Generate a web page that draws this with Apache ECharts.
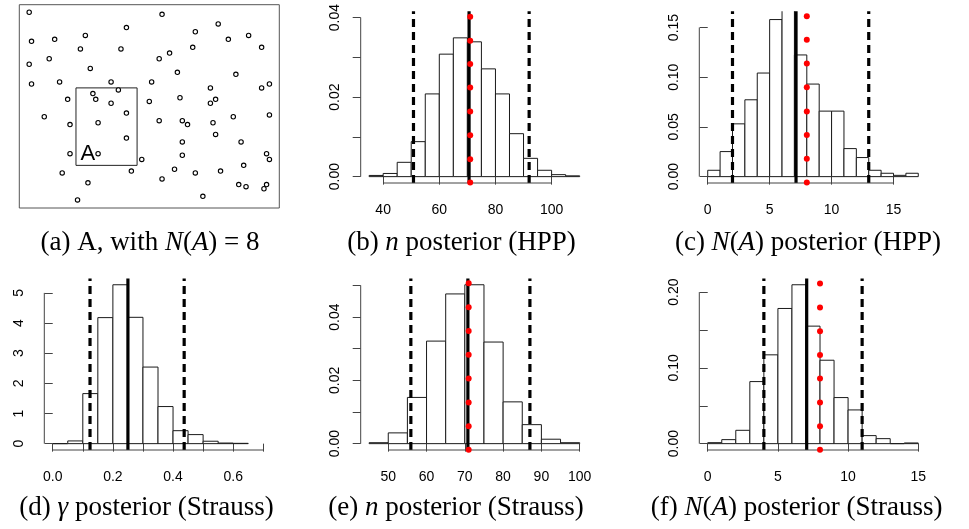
<!DOCTYPE html>
<html>
<head>
<meta charset="utf-8">
<script src="https://cdn.jsdelivr.net/npm/echarts@6/dist/echarts.min.js"></script>
<style>
  html, body { margin: 0; padding: 0; background: #fff; }
  #main { width: 969px; height: 529px; }
</style>
</head>
<body>
<div id="main"></div>
<script>
// ---------- (a) observed point pattern, window [0,1] x [0,0.782] ----------
const windowX = [0, 1];
const windowY = [0, 0.782];
const patternX = [0.038,0.549,0.765,0.412,0.677,0.047,0.136,0.254,0.804,0.882,0.235,0.391,0.667,0.578,0.932,0.115,0.538,0.038,0.273,0.608,0.833,0.047,0.155,0.353,0.509,0.962,0.932,0.735,0.283,0.381,0.186,0.294,0.618,0.755,0.735,0.500,0.353,0.412,0.096,0.195,0.303,0.538,0.627,0.647,0.745,0.823,0.962,0.755,0.412,0.627,0.853,0.195,0.303,0.627,0.951,0.962,0.471,0.863,0.165,0.431,0.597,0.677,0.774,0.264,0.549,0.844,0.872,0.951,0.941,0.224,0.706];
const patternY = [0.753,0.745,0.708,0.694,0.678,0.641,0.649,0.664,0.649,0.664,0.612,0.612,0.618,0.596,0.618,0.574,0.574,0.553,0.537,0.522,0.514,0.477,0.485,0.485,0.485,0.477,0.462,0.462,0.440,0.454,0.418,0.418,0.424,0.418,0.403,0.410,0.403,0.365,0.351,0.321,0.328,0.336,0.336,0.321,0.328,0.351,0.358,0.283,0.269,0.254,0.254,0.209,0.209,0.203,0.209,0.187,0.187,0.164,0.135,0.142,0.149,0.135,0.142,0.097,0.112,0.090,0.082,0.090,0.074,0.031,0.045];
const regionAX = [0.218, 0.453];
const regionAY = [0.164, 0.462];
const regionALabel = 'A';

// ---------- (b) n posterior, HPP ----------
const nHppBreaks = [35,40,45,50,55,60,65,70,75,80,85,90,95,100,105,110];
const nHppDensity = [0.0003,0.0008,0.0036,0.0088,0.0208,0.0308,0.0349,0.0339,0.0271,0.0208,0.0108,0.0046,0.0016,0.0005,0.0002];
const nHppInterval = [50.8, 92.0];
const nHppMean = 70.6;
const nHppXLim = [35, 110];
const nHppYLim = [0, 0.04];
const nHppXTicks = [40, 60, 80, 100];
const nHppYTicks = [0, 0.01, 0.02, 0.03, 0.04];
const nHppYLabels = [0, 0.02, 0.04];
const nHppDotY = [0.0402,0.0342,0.0283,0.0224,0.0164,0.0104,0.0044,-0.0015];

// ---------- (c) N(A) posterior, HPP ----------
const naHppBreaks = [0,1,2,3,4,5,6,7,8,9,10,11,12,13,14,15,16,17];
const naHppDensity = [0.0064,0.0252,0.0531,0.0773,0.1042,0.158,0.168,0.1224,0.0931,0.0659,0.0659,0.0282,0.0192,0.0064,0.0034,0.0013,0.0034];
const naHppInterval = [2, 13];
const naHppMean = 7.13;
const naHppXLim = [0, 17];
const naHppYLim = [0, 0.16];
const naHppXTicks = [0, 5, 10, 15];
const naHppYTicks = [0, 0.05, 0.10, 0.15];
const naHppDotY = [0.1613,0.1376,0.1137,0.0898,0.0656,0.0418,0.0179,-0.0060];

// ---------- (d) gamma posterior, Strauss ----------
const gammaBreaks = [0,0.05,0.10,0.15,0.20,0.25,0.30,0.35,0.40,0.45,0.50,0.55,0.60,0.65];
const gammaDensity = [0,0.09,1.66,4.18,5.27,4.19,2.54,1.23,0.43,0.30,0.08,0.02,0.01];
const gammaInterval = [0.124, 0.437];
const gammaMean = 0.25;
const gammaXLim = [0, 0.7];
const gammaYLim = [0, 5.27];
const gammaXTicks = [0,0.1,0.2,0.3,0.4,0.5,0.6,0.7];
const gammaXLabels = [0, 0.2, 0.4, 0.6];
const gammaYTicks = [0,1,2,3,4,5];

// ---------- (e) n posterior, Strauss ----------
const nStrBreaks = [45,50,55,60,65,70,75,80,85,90,95,100];
const nStrDensity = [0.0003,0.0034,0.0146,0.0324,0.0473,0.0502,0.0321,0.0132,0.0060,0.0014,0.0003];
const nStrInterval = [55.9, 87.0];
const nStrMean = 70.8;
const nStrXLim = [45, 100];
const nStrYLim = [0, 0.0502];
const nStrXTicks = [50,60,70,80,90,100];
const nStrYTicks = [0,0.01,0.02,0.03,0.04,0.05];
const nStrYLabels = [0, 0.02, 0.04];
const nStrDotY = [0.0507,0.0431,0.0356,0.0281,0.0206,0.0130,0.0055,-0.0019];

// ---------- (f) N(A) posterior, Strauss ----------
const naStrBreaks = [0,1,2,3,4,5,6,7,8,9,10,11,12,13,14,15];
const naStrDensity = [0.0013,0.0053,0.0176,0.0819,0.1172,0.1784,0.2097,0.1551,0.1101,0.0608,0.0445,0.0106,0.0066,0,0.0009];
const naStrInterval = [4, 11];
const naStrMean = 7.05;
const naStrXLim = [0, 15];
const naStrYLim = [0, 0.2097];
const naStrXTicks = [0, 5, 10, 15];
const naStrYTicks = [0, 0.05, 0.10, 0.15, 0.20];
const naStrYLabels = [0, 0.10, 0.20];
const naStrDotY = [0.2114,0.1797,0.1484,0.1171,0.0859,0.0542,0.0230,-0.0079];

// true values
const nTrue = 71;
const naTrue = 8;

// ---------- captions ----------
const captions = [
  '(a) A, with {i|N}({i|A}) = 8',
  '(b) {i|n} posterior (HPP)',
  '(c) {i|N}({i|A}) posterior (HPP)',
  '(d) {i|γ} posterior (Strauss)',
  '(e) {i|n} posterior (Strauss)',
  '(f) {i|N}({i|A}) posterior (Strauss)'
];

// ====================== drawing ======================
const AXIS = '#444';
const INK = '#1a1a1a';
const tickFont = { fontFamily: 'Liberation Sans, Arial, sans-serif', fontSize: 14, color: '#000' };
const fixed = d => v => v.toFixed(d);

const grids = [], xAxes = [], yAxes = [], series = [];

// R-style plotting range: limits widened by 4% on each side
function usr(lim) { const d = (lim[1] - lim[0]) * 0.04; return [lim[0] - d, lim[1] + d]; }

function plainLine(i, pts, style, z) {
  series.push({
    type: 'line', xAxisIndex: i, yAxisIndex: i, data: pts, clip: false, z: z || 3,
    symbol: 'none', silent: true, animation: false,
    lineStyle: Object.assign({ color: INK, width: 1, cap: 'butt' }, style)
  });
}

function addHistPanel(p, box) {
  const i = grids.length;
  grids.push({ left: box[0], top: box[1], width: box[2], height: box[3] });
  const ux = usr(p.xlim), uy = usr(p.ylim);
  xAxes.push({
    type: 'value', gridIndex: i, min: ux[0], max: ux[1],
    axisLine: { show: false }, splitLine: { show: false },
    axisTick: { show: true, customValues: p.xTicks, length: 8, lineStyle: { color: AXIS, width: 1 } },
    axisLabel: Object.assign({ show: true, customValues: p.xLabels || p.xTicks, margin: 20.5, formatter: p.xFmt }, tickFont)
  });
  yAxes.push({
    type: 'value', gridIndex: i, min: uy[0], max: uy[1],
    axisLine: { show: false }, splitLine: { show: false },
    axisTick: { show: true, customValues: p.yTicks, length: 8, lineStyle: { color: AXIS, width: 1 } },
    axisLabel: Object.assign({ show: true, customValues: p.yLabels || p.yTicks, rotate: 90, margin: 18.5, formatter: p.yFmt }, tickFont)
  });

  // histogram bars (clipped to the plotting region)
  series.push({
    type: 'custom', xAxisIndex: i, yAxisIndex: i, animation: false, silent: true, clip: true, z: 2,
    data: p.density.map((d, k) => [p.breaks[k], p.breaks[k + 1], d]),
    encode: { x: [0, 1], y: 2 },
    renderItem(params, api) {
      const a = api.coord([api.value(0), 0]);
      const b = api.coord([api.value(1), api.value(2)]);
      return {
        type: 'rect',
        shape: { x: a[0], y: b[1], width: b[0] - a[0], height: a[1] - b[1] },
        style: { fill: '#fff', stroke: INK, lineWidth: 1 }
      };
    }
  });

  // credible interval and posterior mean
  p.interval.forEach(v => plainLine(i, [[v, uy[0]], [v, uy[1]]], { color: '#000', width: 3.2, type: [8, 5] }, 3));
  plainLine(i, [[p.mean, uy[0]], [p.mean, uy[1]]], { color: '#000', width: 3.2 }, 3);

  // true value
  if (p.dotY) {
    series.push({
      type: 'scatter', xAxisIndex: i, yAxisIndex: i, clip: false, silent: true, animation: false, z: 5,
      symbol: 'circle', symbolSize: 6, itemStyle: { color: '#ff0000', opacity: 1 },
      data: p.dotY.map(y => [p.truth, y])
    });
  }

  // axis lines spanning first to last tick
  plainLine(i, [[p.xTicks[0], uy[0]], [p.xTicks[p.xTicks.length - 1], uy[0]]], { color: AXIS, width: 1 }, 4);
  plainLine(i, [[ux[0], p.yTicks[0]], [ux[0], p.yTicks[p.yTicks.length - 1]]], { color: AXIS, width: 1 }, 4);
}

// ---- panel (a) ----
grids.push({ left: 19.3, top: 4.7, width: 260, height: 203.3, show: true, borderColor: '#555', borderWidth: 1, backgroundColor: 'transparent' });
xAxes.push({ type: 'value', gridIndex: 0, min: windowX[0], max: windowX[1], show: false });
yAxes.push({ type: 'value', gridIndex: 0, min: windowY[0], max: windowY[1], show: false });
series.push({
  type: 'scatter', xAxisIndex: 0, yAxisIndex: 0, silent: true, animation: false,
  symbol: 'circle', symbolSize: 4.4,
  itemStyle: { color: '#fff', borderColor: '#000', borderWidth: 1.1, opacity: 1 },
  data: patternX.map((x, k) => [x, patternY[k]])
});
series.push({
  type: 'custom', xAxisIndex: 0, yAxisIndex: 0, silent: true, animation: false,
  data: [[regionAX[0], regionAY[0], regionAX[1], regionAY[1]]],
  renderItem(params, api) {
    const p0 = api.coord([api.value(0), api.value(1)]);
    const p1 = api.coord([api.value(2), api.value(3)]);
    return {
      type: 'group',
      children: [
        { type: 'rect', shape: { x: p0[0], y: p1[1], width: p1[0] - p0[0], height: p0[1] - p1[1] },
          style: { fill: 'none', stroke: '#222', lineWidth: 1 } },
        { type: 'text', x: p0[0] + 4.5, y: p0[1] - 11.6,
          style: { text: regionALabel, fontFamily: 'Liberation Sans, Arial, sans-serif', fontSize: 22,
                   fill: '#000', align: 'left', verticalAlign: 'middle' } }
      ]
    };
  }
});

const W = 227.4;
addHistPanel({ breaks: nHppBreaks, density: nHppDensity, interval: nHppInterval, mean: nHppMean,
  xlim: nHppXLim, ylim: nHppYLim, xTicks: nHppXTicks, yTicks: nHppYTicks, yLabels: nHppYLabels,
  dotY: nHppDotY, truth: nTrue, xFmt: fixed(0), yFmt: fixed(2) }, [360.7, 11.2, W, 171.8]);
addHistPanel({ breaks: naHppBreaks, density: naHppDensity, interval: naHppInterval, mean: naHppMean,
  xlim: naHppXLim, ylim: naHppYLim, xTicks: naHppXTicks, yTicks: naHppYTicks,
  dotY: naHppDotY, truth: naTrue, xFmt: fixed(0), yFmt: fixed(2) }, [699.3, 11.2, W, 171.8]);
addHistPanel({ breaks: gammaBreaks, density: gammaDensity, interval: gammaInterval, mean: gammaMean,
  xlim: gammaXLim, ylim: gammaYLim, xTicks: gammaXTicks, xLabels: gammaXLabels, yTicks: gammaYTicks,
  xFmt: fixed(1), yFmt: fixed(0) }, [44.3, 278.4, W, 171.6]);
addHistPanel({ breaks: nStrBreaks, density: nStrDensity, interval: nStrInterval, mean: nStrMean,
  xlim: nStrXLim, ylim: nStrYLim, xTicks: nStrXTicks, yTicks: nStrYTicks, yLabels: nStrYLabels,
  dotY: nStrDotY, truth: nTrue, xFmt: fixed(0), yFmt: fixed(2) }, [360.7, 278.4, W, 171.6]);
addHistPanel({ breaks: naStrBreaks, density: naStrDensity, interval: naStrInterval, mean: naStrMean,
  xlim: naStrXLim, ylim: naStrYLim, xTicks: naStrXTicks, yTicks: naStrYTicks, yLabels: naStrYLabels,
  dotY: naStrDotY, truth: naTrue, xFmt: fixed(0), yFmt: fixed(2) }, [699.3, 278.4, W, 171.6]);

// ---- sub-captions ----
const capPos = [[150, 242.8], [461.5, 242.8], [808, 242.8], [146.5, 508.3], [456, 508.3], [796.7, 508.3]];
const capFont = 'Liberation Serif, Times New Roman, serif';
const graphics = captions.map((t, k) => ({
  type: 'text', x: capPos[k][0], y: capPos[k][1], silent: true,
  style: {
    text: t, fontFamily: capFont, fontSize: 27, fill: '#000', align: 'center', verticalAlign: 'middle',
    rich: { i: { fontFamily: capFont, fontSize: 27, fontStyle: 'italic', fill: '#000' } }
  }
}));

const chart = echarts.init(document.getElementById('main'), null, { renderer: 'canvas' });
chart.setOption({
  animation: false,
  backgroundColor: '#fff',
  grid: grids,
  xAxis: xAxes,
  yAxis: yAxes,
  series: series,
  graphic: graphics
});
</script>
</body>
</html>
